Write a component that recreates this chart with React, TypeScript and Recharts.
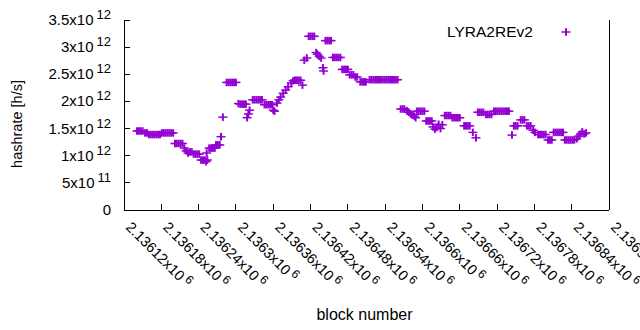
import { ScatterChart, Scatter, XAxis, YAxis } from "recharts";

const PURPLE = "#9400D3";
const FONT = "'Liberation Sans', Arial, sans-serif";

// [block number, hashrate in 1e12 h/s]
const earlyRun: [number, number][] = [
  [2136141, 1.455], [2136144, 1.455], [2136147, 1.455], [2136150, 1.455],
  [2136154, 1.42], [2136157, 1.42],
  [2136160, 1.39], [2136163, 1.39], [2136166, 1.39], [2136169, 1.39], [2136172, 1.39], [2136175, 1.39], [2136178, 1.39],
  [2136181, 1.42], [2136184, 1.42], [2136187, 1.42], [2136190, 1.42], [2136193, 1.42], [2136196, 1.42], [2136199, 1.42],
  [2136202, 1.225], [2136205, 1.225], [2136208, 1.225], [2136211, 1.225], [2136214, 1.225],
  [2136217, 1.14], [2136220, 1.09], [2136223, 1.05],
  [2136226, 1.07], [2136229, 1.07],
  [2136232, 1.03], [2136235, 1.03], [2136238, 1.03], [2136241, 1.03],
  [2136244, 0.92], [2136247, 0.92], [2136250, 0.92], [2136252, 0.89], [2136253, 1.05], [2136254, 0.92],
  [2136257, 1.14], [2136260, 1.14], [2136263, 1.14], [2136266, 1.14],
  [2136268, 1.2], [2136271, 1.2], [2136274, 1.2],
  [2136276, 1.35], [2136279, 1.71],
];

const peakRun: [number, number][] = [
  [2136285, 2.35], [2136288, 2.35], [2136291, 2.35], [2136294, 2.35], [2136297, 2.35], [2136300, 2.35],
  [2136304, 1.96], [2136307, 1.95], [2136310, 1.95], [2136313, 1.95], [2136316, 1.95],
  [2136318, 1.7], [2136320, 1.77], [2136322, 1.84],
  [2136327, 2.03], [2136330, 2.03], [2136333, 2.03], [2136336, 2.03], [2136339, 2.03], [2136342, 2.03],
  [2136346, 1.94], [2136349, 1.94], [2136352, 1.94], [2136355, 1.94], [2136358, 1.94], [2136360, 1.84], [2136362, 1.82],
  [2136366, 1.97], [2136369, 2.03], [2136372, 2.08], [2136376, 2.15], [2136380, 2.21], [2136384, 2.27],
  [2136389, 2.34], [2136392, 2.38],
  [2136395, 2.39], [2136398, 2.39], [2136401, 2.39], [2136404, 2.39],
  [2136407, 2.3], [2136410, 2.76], [2136414, 2.8],
  [2136417, 3.2], [2136420, 3.2], [2136423, 3.2], [2136426, 3.2],
  [2136429, 2.9], [2136431, 2.87], [2136434, 2.83], [2136437, 2.8],
  [2136440, 2.62], [2136441, 2.56],
  [2136444, 3.12], [2136447, 3.12], [2136450, 3.12], [2136453, 3.12],
  [2136456, 2.81], [2136459, 2.81], [2136462, 2.81], [2136465, 2.81], [2136468, 2.81],
  [2136471, 2.59], [2136474, 2.59], [2136477, 2.59], [2136480, 2.59],
  [2136483, 2.49], [2136486, 2.49], [2136489, 2.49], [2136492, 2.45], [2136495, 2.45],
  [2136500, 2.36], [2136503, 2.36], [2136506, 2.36], [2136509, 2.36],
  [2136515, 2.4], [2136518, 2.4], [2136521, 2.4], [2136524, 2.4], [2136527, 2.4], [2136530, 2.4],
  [2136533, 2.4], [2136536, 2.4], [2136539, 2.4], [2136542, 2.4], [2136545, 2.4], [2136548, 2.4],
  [2136551, 2.4], [2136554, 2.4], [2136557, 2.4], [2136560, 2.4],
];

const lateRun: [number, number][] = [
  [2136565, 1.86], [2136568, 1.86], [2136571, 1.86],
  [2136575, 1.83], [2136578, 1.8], [2136581, 1.77], [2136584, 1.75], [2136587, 1.73], [2136589, 1.7],
  [2136591, 1.82], [2136594, 1.82], [2136597, 1.82], [2136600, 1.82], [2136603, 1.82],
  [2136606, 1.64], [2136609, 1.64], [2136612, 1.64], [2136615, 1.64],
  [2136617, 1.53], [2136620, 1.49], [2136623, 1.52],
  [2136626, 1.58], [2136629, 1.5], [2136632, 1.57],
  [2136636, 1.74], [2136639, 1.74], [2136642, 1.74], [2136645, 1.74],
  [2136648, 1.7], [2136651, 1.7], [2136654, 1.7], [2136657, 1.7], [2136660, 1.7],
  [2136667, 1.55], [2136670, 1.55], [2136673, 1.55], [2136676, 1.55],
  [2136681, 1.43], [2136686, 1.33],
  [2136689, 1.8], [2136692, 1.8], [2136695, 1.8], [2136698, 1.8],
  [2136702, 1.76], [2136705, 1.76], [2136708, 1.76], [2136711, 1.76],
  [2136715, 1.82], [2136718, 1.82], [2136721, 1.82], [2136724, 1.82], [2136727, 1.82],
  [2136730, 1.82], [2136733, 1.82], [2136736, 1.82], [2136739, 1.82],
  [2136744, 1.38],
  [2136747, 1.55], [2136750, 1.55], [2136753, 1.55],
  [2136758, 1.66], [2136761, 1.66], [2136764, 1.66],
  [2136768, 1.55], [2136771, 1.55], [2136774, 1.55],
  [2136778, 1.47], [2136781, 1.43],
  [2136786, 1.39], [2136789, 1.39], [2136792, 1.39], [2136795, 1.39], [2136798, 1.39],
  [2136802, 1.29], [2136805, 1.29], [2136808, 1.29],
  [2136811, 1.43], [2136814, 1.43], [2136817, 1.43], [2136820, 1.43], [2136823, 1.43], [2136826, 1.43],
  [2136829, 1.29], [2136832, 1.29], [2136835, 1.29], [2136838, 1.29], [2136841, 1.29], [2136844, 1.29],
  [2136848, 1.31], [2136851, 1.36], [2136854, 1.4], [2136857, 1.44], [2136860, 1.4], [2136863, 1.42],
];

const xTicks = [
  2136120, 2136180, 2136240, 2136300, 2136360, 2136420, 2136480,
  2136540, 2136600, 2136660, 2136720, 2136780, 2136840, 2136900,
];
const yTicks = [0, 0.5e12, 1e12, 1.5e12, 2e12, 2.5e12, 3e12, 3.5e12];
const seriesName = "LYRA2REv2";

const data = [...earlyRun, ...peakRun, ...lateRun].map(([block, rate]) => ({
  block,
  rate: rate * 1e12,
}));

const xDomain: [number, number] = [xTicks[0], xTicks[xTicks.length - 1]];
const yDomain: [number, number] = [yTicks[0], yTicks[yTicks.length - 1]];

function Cross(props: any) {
  const { cx, cy } = props;
  if (cx == null || cy == null) return null;
  return (
    <g>
      <line x1={cx - 4.5} x2={cx + 4.5} y1={cy} y2={cy} stroke={PURPLE} strokeWidth={1.5} />
      <line x1={cx} x2={cx} y1={cy - 3.75} y2={cy + 3.75} stroke={PURPLE} strokeWidth={2} />
    </g>
  );
}

function sci(v: number) {
  if (v === 0) return { m: "0", e: "" };
  const e = Math.floor(Math.log10(v) + 1e-9);
  const m = Math.round((v / Math.pow(10, e)) * 10) / 10;
  return { m: String(m), e: String(e) };
}

function BottomTick(props: any) {
  const { x, y, payload } = props;
  const m = (payload.value / 1e6).toFixed(5).replace(/0+$/, "").replace(/\.$/, "");
  return (
    <g>
      <line x1={x} x2={x} y1={y} y2={y - 6} stroke="#000" shapeRendering="crispEdges" />
      <text
        transform={`translate(${x + 1},${y + 18}) rotate(45)`}
        fontSize={14.5}
        fontFamily={FONT}
        fill="#000"
      >
        {m}x10
        <tspan dx={3} dy={-5} fontSize={12}>6</tspan>
      </text>
    </g>
  );
}

function LeftTick(props: any) {
  const { x, y, payload } = props;
  const { m, e } = sci(payload.value);
  return (
    <g>
      <line x1={x} x2={x + 6} y1={y} y2={y} stroke="#000" shapeRendering="crispEdges" />
      <text
        x={x - 13}
        y={y + 5}
        textAnchor="end"
        fontSize={15}
        fontFamily={FONT}
        fill="#000"
      >
        {e ? `${m}x10` : m}
        {e && (
          <tspan dx={3} dy={-6} fontSize={13}>
            {e}
          </tspan>
        )}
      </text>
    </g>
  );
}

function TopTick(props: any) {
  const { x, y } = props;
  return <line x1={x} x2={x} y1={y} y2={y + 6} stroke="#000" shapeRendering="crispEdges" />;
}

function RightTick(props: any) {
  const { x, y } = props;
  return <line x1={x} x2={x - 6} y1={y} y2={y} stroke="#000" shapeRendering="crispEdges" />;
}

const axisLine = { stroke: "#000", strokeWidth: 1, shapeRendering: "crispEdges" };

export default function App() {
  return (
    <div
      style={{
        position: "absolute",
        left: 0,
        top: 0,
        width: 640,
        height: 330,
        background: "#fff",
      }}
    >
      <ScatterChart width={640} height={330} margin={{ top: 20, right: 0, bottom: 0, left: 0 }}>
        <XAxis
          xAxisId="bottom"
          dataKey="block"
          type="number"
          domain={xDomain}
          ticks={xTicks}
          interval={0}
          height={120}
          tickSize={0}
          tickMargin={0}
          tickLine={false}
          axisLine={axisLine}
          tick={<BottomTick />}
          label={{
            content: (p: any) => {
              const vb = p.viewBox;
              return (
                <text
                  x={vb.x + vb.width / 2 - 2}
                  y={vb.y + 110}
                  textAnchor="middle"
                  fontSize={16}
                  fontFamily={FONT}
                  fill="#000"
                >
                  block number
                </text>
              );
            },
          }}
        />
        <XAxis
          xAxisId="top"
          orientation="top"
          type="number"
          domain={xDomain}
          ticks={xTicks}
          interval={0}
          height={0}
          tickSize={0}
          tickMargin={0}
          tickLine={false}
          axisLine={axisLine}
          tick={<TopTick />}
        />
        <YAxis
          yAxisId="left"
          dataKey="rate"
          type="number"
          domain={yDomain}
          ticks={yTicks}
          interval={0}
          width={124}
          tickSize={0}
          tickMargin={0}
          tickLine={false}
          axisLine={axisLine}
          tick={<LeftTick />}
          label={{
            content: (p: any) => {
              const vb = p.viewBox;
              const cy = vb.y + vb.height / 2 + 9;
              return (
                <text
                  transform={`translate(22,${cy}) rotate(-90)`}
                  textAnchor="middle"
                  fontSize={14.5}
                  fontFamily={FONT}
                  fill="#000"
                >
                  hashrate [h/s]
                </text>
              );
            },
          }}
        />
        <YAxis
          yAxisId="right"
          orientation="right"
          type="number"
          domain={yDomain}
          ticks={yTicks}
          interval={0}
          width={31}
          tickSize={0}
          tickMargin={0}
          tickLine={false}
          axisLine={axisLine}
          tick={<RightTick />}
        />
        <Scatter
          name={seriesName}
          data={data}
          xAxisId="bottom"
          yAxisId="left"
          isAnimationActive={false}
          shape={(p: any) => <Cross {...p} />}
        />
      </ScatterChart>
      <svg
        width={200}
        height={30}
        style={{ position: "absolute", left: 440, top: 18 }}
      >
        <text x={7} y={19} fontSize={15.5} fontFamily={FONT} fill="#000">
          {seriesName}
        </text>
        <line x1={121.5} x2={130.5} y1={14} y2={14} stroke={PURPLE} strokeWidth={1.5} />
        <line x1={126} x2={126} y1={10.25} y2={17.75} stroke={PURPLE} strokeWidth={2} />
      </svg>
    </div>
  );
}
